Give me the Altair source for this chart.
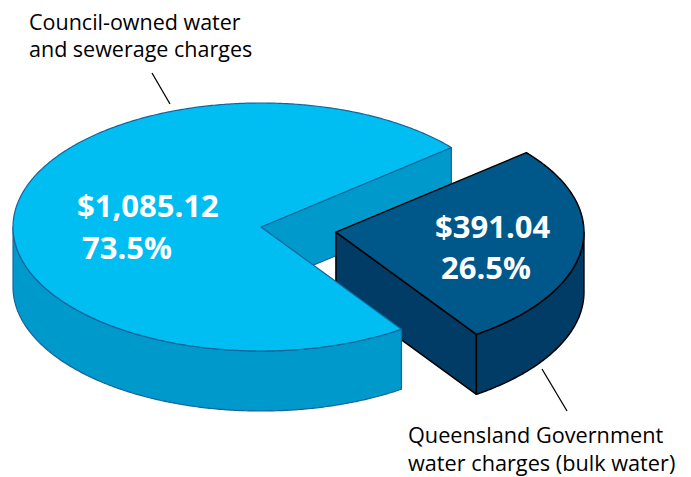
import math
import altair as alt
import pandas as pd

# ---------------- data ----------------
categories = ["Council-owned water and sewerage charges",
              "Queensland Government water charges (bulk water)"]
amounts = [1085.12, 391.04]
category_lines = [["Council-owned water", "and sewerage charges"],
                  ["Queensland Government", "water charges (bulk water)"]]

total = sum(amounts)
shares = [v / total for v in amounts]
value_labels = ["${:,.2f}".format(v) for v in amounts]
pct_labels = ["{:.1f}%".format(s * 100) for s in shares]

# ---------------- geometry (layout) ----------------
CX, CY = 261, 227        # pie centre (pixels)
A, B = 248, 124          # ellipse radii of the tilted pie
DEPTH = 60               # thickness of the pie
EXPLODE = 0.305          # explode fraction for the small slice
START = -55.5            # start angle of small slice (degrees, y up)

small_span = 360 * shares[1]
small_range = (START, START + small_span)
big_range = (START + small_span, START + 360)


def pt(cx, cy, deg, dz=0.0):
    r = math.radians(deg)
    return [cx + A * math.cos(r), cy - B * math.sin(r) + dz]


def arc(cx, cy, d0, d1, dz=0.0):
    n = max(2, int(abs(d1 - d0) / 0.5) + 1)
    return [pt(cx, cy, d0 + (d1 - d0) * i / (n - 1), dz) for i in range(n)]


def feature(coords):
    ring = coords + [coords[0]]
    return {"type": "Feature", "properties": {},
            "geometry": {"type": "Polygon", "coordinates": [ring]}}


def visible_side(cx, cy, d0, d1):
    feats = []
    for k in (-1, 0, 1):
        lo, hi = 180 + 360 * k, 360 + 360 * k
        a0, a1 = max(d0, lo), min(d1, hi)
        if a1 > a0:
            top = arc(cx, cy, a0, a1)
            bot = arc(cx, cy, a1, a0, DEPTH)
            feats.append(feature(top + bot))
    return feats


def top_sector(cx, cy, d0, d1):
    return [feature([[cx, cy]] + arc(cx, cy, d0, d1))]


def cut_face(cx, cy, deg):
    p = pt(cx, cy, deg)
    return [feature([[cx, cy], p, [p[0], p[1] + DEPTH], [cx, cy + DEPTH]])]


mid = math.radians((small_range[0] + small_range[1]) / 2)
OX = CX + EXPLODE * A * math.cos(mid)
OY = CY - EXPLODE * B * math.sin(mid)

LIGHT_TOP = "#00BEF2"
LIGHT_SIDE = "#0099CB"
LIGHT_EDGE = "#17649A"
DARK_TOP = "#00578A"
DARK_SIDE = "#003C66"
DARK_EDGE = "#000000"

proj = dict(type="identity", scale=1, translate=[0, 0])


def shape_layer(feats, fill, stroke, sw):
    return (alt.Chart(alt.Data(values=feats))
            .mark_geoshape(fill=fill, stroke=stroke, strokeWidth=sw,
                           strokeJoin="round")
            .project(**proj))


layers = [
    shape_layer(cut_face(CX, CY, big_range[0]), LIGHT_SIDE, LIGHT_EDGE, 1.2),
    shape_layer(cut_face(OX, OY, small_range[0]), DARK_SIDE, DARK_EDGE, 1.5),
    shape_layer(visible_side(OX, OY, *small_range), DARK_SIDE, DARK_EDGE, 1.5),
    shape_layer(top_sector(OX, OY, *small_range), DARK_TOP, DARK_EDGE, 1.5),
    shape_layer(visible_side(CX, CY, *big_range), LIGHT_SIDE, LIGHT_EDGE, 1.2),
    shape_layer(top_sector(CX, CY, *big_range), LIGHT_TOP, LIGHT_EDGE, 1.2),
]


def text_layer(txt, x, y, size, weight="normal", color="black",
               font="Open Sans", line_height=None):
    kw = {}
    if line_height is not None:
        kw = dict(lineBreak="\n", lineHeight=line_height)
    return (alt.Chart(pd.DataFrame({"t": [txt]}))
            .mark_text(x=x, y=y, align="left", baseline="alphabetic",
                       font=font, fontSize=size, fontWeight=weight,
                       color=color, **kw)
            .encode(text="t:N"))


# value labels on slices
layers += [
    text_layer(value_labels[0], 77, 217, 31, "bold", "white"),
    text_layer(pct_labels[0], 82, 259, 31, "bold", "white"),
    text_layer(value_labels[1], 435, 238, 31, "bold", "white"),
    text_layer(pct_labels[1], 441, 279, 31, "bold", "white"),
]

# category labels (two lines each, one text mark)
layers += [
    text_layer("\n".join(category_lines[0]), 29, 29.5, 21.5, line_height=27),
    text_layer("\n".join(category_lines[1]), 408, 443, 21.7, line_height=27.5),
]


def leader(x1, y1, x2, y2):
    return (alt.Chart(pd.DataFrame({"d": [0]}))
            .mark_rule(color="black", strokeWidth=1.3)
            .encode(x=alt.value(x1), y=alt.value(y1),
                    x2=alt.value(x2), y2=alt.value(y2)))


layers += [leader(152, 73, 170, 104), leader(542, 369, 567, 411)]

chart = (alt.layer(*layers)
         .properties(width=691, height=477, autosize="none", padding=0,
                     background="white")
         .configure_view(stroke=None))

chart.save("out.html", embed_options={"renderer": "svg", "actions": False})
